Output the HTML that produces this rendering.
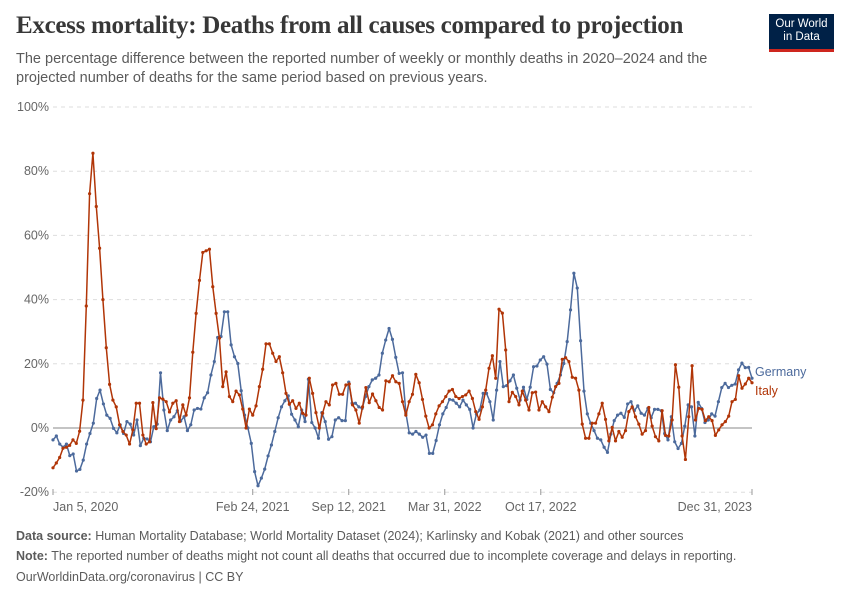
<!DOCTYPE html>
<html><head><meta charset="utf-8"><style>
body{margin:0;background:#fff;font-family:"Liberation Sans",sans-serif;}
#wrap{position:relative;width:850px;height:600px;overflow:hidden}
.t{position:absolute;margin:0}
</style></head><body>
<div id="wrap">
<h1 class="t" style="left:16px;top:12px;font-family:'Liberation Serif',serif;font-size:25px;font-weight:bold;color:#373737;letter-spacing:-0.3px;white-space:nowrap">Excess mortality: Deaths from all causes compared to projection</h1>
<p class="t" style="left:16px;top:50px;width:730px;font-size:14.5px;line-height:19px;color:#5b5b5b">The percentage difference between the reported number of weekly or monthly deaths in 2020–2024 and the projected number of deaths for the same period based on previous years.</p>
<div class="t" style="left:769px;top:14px;width:65px;height:38px;background:#002147;color:#fff;font-size:11.5px;line-height:13px;text-align:center;padding-top:4px;box-sizing:border-box;border-bottom:3px solid #ce261e">Our World<br>in Data</div>
<svg id="chart" width="850" height="600" style="position:absolute;left:0;top:0"></svg>
<p class="t" style="left:16px;top:529px;font-size:12.5px;color:#5b5b5b"><b>Data source:</b> Human Mortality Database; World Mortality Dataset (2024); Karlinsky and Kobak (2021) and other sources</p>
<p class="t" style="left:16px;top:549px;font-size:12.5px;color:#5b5b5b"><b>Note:</b> The reported number of deaths might not count all deaths that occurred due to incomplete coverage and delays in reporting.</p>
<p class="t" style="left:16px;top:570px;font-size:12.5px;color:#5b5b5b">OurWorldinData.org/coronavirus | CC BY</p>
</div>
<script>
const yTicks=[-20,0,20,40,60,80,100];
const xTickDates=["2020-01-05","2021-02-24","2021-09-12","2022-03-31","2022-10-17","2023-12-31"];
const xTickLabels=["Jan 5, 2020","Feb 24, 2021","Sep 12, 2021","Mar 31, 2022","Oct 17, 2022","Dec 31, 2023"];
const germany=[-3.7,-2.5,-5,-6,-5,-8.6,-8.1,-13.4,-12.9,-10,-5,-1.7,1.5,9.2,11.8,7.5,4,3,-0.1,-1.5,1,-1.7,2,1.2,-2.2,2.5,-5.5,-3.2,-3.4,-4.3,0.4,1.2,17.2,5.6,-0.8,2.5,3.5,5.4,2.2,3.5,-0.8,1,5.6,6.1,5.9,9.4,11,16.5,20.7,28.2,28.5,36.2,36.2,
25.9,22.2,20.1,11.6,4,0,-4.8,-13.6,-18,-15.6,-12.8,-8.7,-5.3,-1.1,3.2,6.6,8.5,10,4.3,2.5,0.4,5.6,2,15.2,1.7,0,-3.2,4.8,2,-3.5,-2.7,2.5,3.2,2.3,2.3,14.3,7.7,7.7,6.6,6.1,9.8,12.9,15,15.5,16.5,23.3,27.4,31,27.6,22,
17,17.2,4.6,-1.5,-1.9,-1.1,-1.9,-2.9,-2.2,-7.9,-7.9,-3.9,1,4.4,6.4,8.9,8.7,7.7,6.6,8.7,7.2,5.8,0,4.3,5.6,10.8,10.8,8.2,2.5,11.8,20.7,12.9,13.2,14.7,16.5,12.4,8.7,12.7,8.9,12.7,19.1,19.3,21.2,22.2,19.9,12,11,13.9,16.5,20.1,26.9,36.8,
48.2,43.6,27.2,11.5,4.4,1.5,-0.8,-3.2,-3.7,-6,-7.6,-1.9,2.3,4,4.6,3.3,7.5,8.2,5.4,6.9,4.6,4,6.1,3.2,5.8,5.8,5.4,-1.7,-3.7,3.5,-4.3,-6.4,-4.8,0.6,7.2,6.6,-2.5,8,6.1,1.7,2.5,4.4,3.7,8.2,12.6,13.9,12.6,13.3,13.7,18.1,20.2,18.8,18.9,15.5];
const italy=[-12.4,-10.9,-9.2,-6.3,-6,-5.4,-3.7,-4.8,-1,8.7,38,73,85.6,69,56,40,25,13.6,8.7,6.6,1,-1.1,-2.2,-5,-0.6,7.7,7.7,-2.2,-5,-4.3,7.9,-0.2,9.4,9,8.2,5,7.7,8.5,2,7.2,4,9.4,23.6,35.7,46,54.7,55.2,55.7,44,35.7,28,12.9,17.5,
9.8,8.2,11.5,10.3,5.9,0,5.9,4,6.9,12.9,18.3,26.2,26.2,23.3,20.7,22.2,17.2,10.8,7.4,8.5,6.1,7.7,4.6,4,15.5,10.8,4.8,0,4.6,8.2,7.2,13.4,13.9,10.5,10.5,13.4,13.7,7.2,5.6,1.5,6.6,12.6,7.9,10.6,8.5,6.4,5.6,14.7,14.4,16.3,14.4,
13.9,8.2,4,8.2,10.5,16.7,14.1,8.9,3.7,0,1,4.4,6.9,8.2,9.8,11.5,12,9.8,9.2,9.8,10.3,11.5,9.2,5.1,2.7,6.6,11.8,18.6,22.5,15.5,37,35.8,24.3,8.2,11.1,9.8,7.2,11.5,8.7,5.6,11,11.2,5.6,8.2,6.6,5.1,9.6,12.9,13.9,21.4,21.9,20.7,15.8,
15.5,11.8,1.2,-3.2,-3.2,1.5,1.5,4.4,7.7,2.7,-4,0.2,-4,-1.1,-2.9,-0.8,5.1,6.6,3.5,1.2,-1.9,-0.8,6.4,0.6,-2.7,-4,5.4,-2.3,-2.5,2.5,19.7,12.7,-2.5,-9.8,3.5,19.4,2.5,6.1,5.8,2.3,3.5,2.3,-2.3,-0.6,1,2,3.7,8.2,8.9,16.3,12.4,13.7,15.5,14.1];
const NS='http://www.w3.org/2000/svg';
const svg=document.getElementById('chart');
const X0=53,X1=752,Y0=428,PX=3.21;
const t0=Date.parse("2020-01-05"),t1=Date.parse("2023-12-31");
function xd(d){return X0+(Date.parse(d)-t0)/(t1-t0)*(X1-X0);}
function xi(i,n){return X0+i/(n-1)*(X1-X0);}
function y(v){return Y0-v*PX;}
function mk(tag,at){const e=document.createElementNS(NS,tag);for(const k in at)e.setAttribute(k,at[k]);svg.appendChild(e);return e;}
yTicks.forEach(v=>{
 const l=mk('line',{x1:X0,x2:X1,y1:y(v),y2:y(v),stroke:v===0?'#a1a1a1':'#dddddd','stroke-width':v===0?1.2:1,'stroke-dasharray':v===0?'':'4,4'});
 
 
 const t=mk('text',{x:49,y:y(v)+4,'text-anchor':'end','font-size':12.5,fill:'#666','font-family':'Liberation Sans'});
 t.textContent=v+'%';
 
 
});
xTickDates.forEach((d,i)=>{
 const x=xd(d);
 const l=mk('line',{x1:x,x2:x,y1:489,y2:495,stroke:'#999'});
 
 
 const anchor=i===0?'start':(i===xTickDates.length-1?'end':'middle');
 const t=mk('text',{x:x,y:511,'text-anchor':anchor,'font-size':12.5,fill:'#666','font-family':'Liberation Sans'});
 t.textContent=xTickLabels[i];
 
 
});
function series(vals,color,name,labelY){
 const pts=vals.map((v,i)=>xi(i,vals.length).toFixed(1)+','+y(v).toFixed(1)).join(' ');
 const p=mk('polyline',{points:pts,fill:'none',stroke:color,'stroke-width':1.5,'stroke-linejoin':'round'});
 
 
 vals.forEach((v,i)=>{
  const c=mk('circle',{cx:xi(i,vals.length),cy:y(v),r:1.6,fill:color});
  
  
 });
 const t=mk('text',{x:755,y:labelY,'font-size':12.5,fill:color,'font-family':'Liberation Sans'});
 t.textContent=name;
 
 
}
series(germany,'#4c6a9c','Germany',376);
series(italy,'#b13507','Italy',395);
</script>
</body></html>
